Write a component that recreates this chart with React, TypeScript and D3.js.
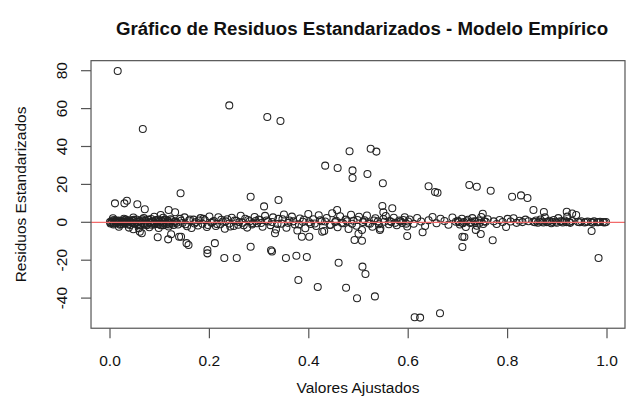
import React from "react";
import * as d3 from "d3";

// ---- Data ----
// Dense band of residuals near zero
const bandFittedA = [0.000,0.003,0.005,0.008,0.010,0.013,0.016,0.019,0.021,0.024,0.027,0.030,0.033,0.036,0.039,0.042,0.045,0.048,0.051,0.054,0.057,0.060,0.063,0.066,0.069,0.072,0.075,0.078,0.081,0.084,0.087,0.090,0.093,0.096,0.099,0.102,0.105,0.108,0.111,0.114,0.117,0.120,0.124,0.128];
const bandResidA = [0.1,-0.2,0.3,-0.5,0.4,0.8,-0.3,0.6,-0.9,0.2,1.1,-0.6,0.5,-1.2,0.9,0.0,-0.4,1.3,-0.8,0.3,-1.5,0.7,-0.2,1.0,-1.1,0.4,-0.7,1.4,0.1,-1.3,0.6,-0.5,1.2,-0.9,0.3,-1.6,0.8,-0.1,1.5,-1.0,0.5,-0.3,1.1,-1.4];
const bandFittedA2 = [0.006,0.018,0.028,0.038,0.047,0.058,0.068,0.079,0.089,0.098,0.107,0.118];
const bandResidA2 = [2.1,-2.4,1.9,-2.8,2.5,-3.2,2.2,-2.6,2.9,-3.0,2.4,-2.2];
const bandFittedA3 = [0.001,0.004,0.007,0.009,0.012,0.015,0.017,0.020,0.023,0.026,0.029,0.032,0.035,0.038,0.041,0.044,0.047,0.050,0.053,0.056,0.059,0.062,0.065,0.068,0.071,0.074,0.077,0.080,0.083,0.086,0.089,0.092,0.095,0.098,0.101,0.104,0.107,0.110,0.113,0.116,0.119,0.122,0.126,0.130];
const bandResidA3 = [-0.6,0.9,-1.1,1.2,-0.4,0.2,1.0,-1.3,0.7,-0.8,0.3,1.4,-0.2,0.5,-1.4,1.1,0.8,-0.6,1.5,-1.0,0.4,-1.7,1.6,-0.5,0.9,-1.5,1.2,-0.3,1.7,0.2,-1.2,1.0,-0.1,1.4,-0.8,0.6,-1.5,1.3,-0.4,0.9,-1.2,1.6,-0.6,0.3];
const bandFittedB = [0.132,0.137,0.141,0.146,0.150,0.155,0.159,0.164,0.168,0.173,0.177,0.182,0.186,0.191,0.195,0.200,0.204,0.209,0.213,0.218,0.222,0.227,0.231,0.236,0.240,0.245,0.249,0.254,0.258,0.263,0.267,0.272,0.276,0.281,0.286,0.291,0.296];
const bandResidB = [0.5,-1.2,1.8,-0.4,2.6,-2.1,0.9,-3.0,1.4,0.2,-1.7,2.2,-0.8,1.1,-2.5,3.1,-0.3,0.7,-1.9,2.7,-1.0,0.4,-3.4,1.6,-0.6,2.4,-2.0,0.8,-1.3,3.5,-0.2,1.9,-2.8,0.6,-1.1,2.8,-0.5];
const bandFittedB2 = [0.134,0.143,0.152,0.161,0.170,0.179,0.188,0.197,0.206,0.215,0.224,0.233,0.242,0.251,0.260,0.269,0.278,0.287,0.293,0.299];
const bandResidB2 = [-0.3,0.8,-1.0,1.5,-0.6,0.9,1.8,-1.4,0.2,-0.9,1.3,0.5,-2.2,1.0,0.1,-1.6,1.2,-0.4,0.7,1.5];
const bandFittedC = [0.302,0.307,0.312,0.318,0.323,0.328,0.334,0.339,0.345,0.350,0.355,0.361,0.366,0.372,0.377,0.382,0.388,0.393,0.399,0.404,0.409,0.415,0.420,0.426,0.431,0.436,0.442,0.447,0.453,0.458,0.463,0.469,0.474,0.480,0.485,0.490,0.496,0.501,0.507,0.512,0.517,0.523,0.528,0.534,0.539,0.544,0.550,0.555,0.561,0.566,0.571,0.577,0.582,0.588,0.593,0.598];
const bandResidC = [1.2,-2.3,3.4,0.4,-1.5,2.6,-3.8,1.8,-0.7,4.1,-2.9,0.9,3.0,-1.2,-4.3,2.0,0.3,-3.1,4.4,-0.9,1.6,-2.0,3.7,0.6,-4.6,2.3,-1.4,4.8,0.1,-2.6,3.2,-0.5,1.4,-3.5,4.0,0.8,-1.8,2.9,-4.1,1.1,3.6,-0.8,-2.4,2.1,0.5,-3.3,1.7,3.3,-1.0,0.2,2.4,-1.6,1.0,-0.4,2.7,-2.2];
const bandFittedC2 = [0.304,0.315,0.326,0.337,0.347,0.358,0.369,0.380,0.390,0.401,0.412,0.423,0.433,0.444,0.455,0.466,0.477,0.487,0.498,0.509,0.520,0.531,0.541,0.552,0.563,0.574,0.585,0.590,0.596,0.600];
const bandResidC2 = [-0.4,1.0,0.2,-0.9,1.6,-0.3,0.5,-1.1,1.3,0.0,-0.6,1.1,0.4,-1.3,0.8,-0.2,0.6,-0.8,1.2,0.1,-0.5,0.9,-1.0,0.3,0.7,-0.3,0.5,1.2,-0.7,0.4];
const bandFittedD = [0.603,0.611,0.618,0.626,0.634,0.641,0.649,0.657,0.665,0.673,0.681,0.689,0.696];
const bandResidD = [1.5,-0.8,2.3,0.4,-1.9,1.1,2.8,-0.5,1.9,0.7,-1.3,2.5,0.3];
const bandFittedE = [0.700,0.704,0.708,0.712,0.716,0.720,0.725,0.729,0.733,0.738,0.742,0.747,0.751,0.756,0.760];
const bandResidE = [0.8,-1.2,1.9,0.2,-2.5,1.3,-0.4,2.2,0.6,-1.8,1.0,2.8,-0.9,0.3,1.6];
const bandFittedE2 = [0.702,0.710,0.718,0.727,0.735,0.744,0.753];
const bandResidE2 = [0.1,-0.5,0.6,0.0,0.3,-0.2,0.5];
const bandFittedF = [0.772,0.778,0.784,0.790,0.800,0.806,0.812,0.818,0.824,0.830,0.836,0.842];
const bandResidF = [0.5,-0.9,1.2,0.2,1.8,0.4,2.1,-0.3,0.8,0.1,1.4,0.6];
const bandFittedG = [0.852,0.857,0.861,0.866,0.870,0.875,0.879,0.884,0.888,0.893,0.897,0.902,0.906,0.911,0.915,0.920,0.924,0.929];
const bandResidG = [0.3,0.9,-0.2,1.5,0.4,2.6,0.1,0.8,-0.5,1.2,0.3,2.2,0.6,-0.1,1.0,3.0,0.2,0.7];
const bandFittedG2 = [0.855,0.864,0.872,0.881,0.890,0.899,0.909,0.918,0.926];
const bandResidG2 = [0.0,0.4,-0.1,0.3,0.2,-0.2,0.4,0.1,-0.3];
const bandFittedH = [0.942,0.948,0.955,0.961,0.968,0.974,0.980,0.986,0.992,0.998];
const bandResidH = [0.2,0.6,-0.1,0.4,0.1,0.5,0.0,0.3,0.1,0.2];
const bandFittedH2 = [0.945,0.958,0.971,0.983,0.995];
const bandResidH2 = [0.0,0.2,-0.2,0.1,-0.1];

// Scattered points away from the band
const outFitted = [0.0155,0.066,0.240,0.3165,0.343,0.482,0.5245,0.536,0.433,0.458,0.488,0.488,0.518,0.549,0.641,0.654,0.659,0.723,0.738,0.766,0.809,0.827,0.840,0.852,0.873,0.750,0.919,0.930,0.938,
  0.709,0.713,0.709,0.736,0.746,0.770,0.797,0.969,0.983,0.664,
  0.310,0.339,0.457,0.548,0.550,0.568,
  0.324,0.326,0.354,0.375,0.396,0.379,0.418,0.460,0.475,0.497,0.508,0.514,0.533,0.613,0.624,0.492,0.507,0.500,0.598,0.629,0.386,0.401,0.332,0.427,0.543,
  0.010,0.029,0.034,0.055,0.070,0.142,0.102,0.118,0.131,0.283,
  0.047,0.060,0.064,0.096,0.117,0.123,0.139,0.143,0.154,0.158,0.211,0.196,0.196,0.230,0.255,0.283];
const outResid = [79.8,49.2,61.7,55.6,53.5,37.5,38.8,37.3,29.9,28.7,27.4,23.4,25.5,20.6,19.0,16.0,15.6,19.7,18.8,16.7,13.5,14.2,12.8,6.5,5.4,4.5,5.6,4.6,3.8,
  -7.6,-7.8,-13.0,-4.0,-6.2,-9.5,-2.5,-4.6,-18.8,-48.0,
  8.4,11.8,6.5,8.6,5.3,7.4,
  -14.8,-15.4,-18.8,-17.6,-18.3,-30.4,-34.1,-21.3,-34.5,-40.1,-23.4,-27.3,-39.1,-50.1,-50.3,-9.3,-9.7,-6.0,-7.2,-5.3,-7.6,-7.6,-5.8,-5.0,-4.0,
  10.0,10.0,11.4,9.5,6.9,15.3,3.9,6.5,5.3,13.5,
  -3.7,-5.0,-5.8,-7.9,-9.0,-6.3,-7.6,-7.6,-11.0,-12.0,-11.0,-14.6,-16.4,-18.8,-18.8,-12.9];

const xTicks = [0, 0.2, 0.4, 0.6, 0.8, 1.0];
const yTicks = [-40, -20, 0, 20, 40, 60, 80];
const titleText = "Gráfico de Residuos Estandarizados - Modelo Empírico";
const xLabel = "Valores Ajustados";
const yLabel = "Residuos Estandarizados";

function zip(xs: number[], ys: number[]) {
  const n = Math.min(xs.length, ys.length);
  const out: [number, number][] = [];
  for (let i = 0; i < n; i++) out.push([xs[i], ys[i]]);
  return out;
}

const points: [number, number][] = [
  ...zip(bandFittedA, bandResidA),
  ...zip(bandFittedA2, bandResidA2),
  ...zip(bandFittedA3, bandResidA3),
  ...zip(bandFittedB, bandResidB),
  ...zip(bandFittedB2, bandResidB2),
  ...zip(bandFittedC, bandResidC),
  ...zip(bandFittedC2, bandResidC2),
  ...zip(bandFittedD, bandResidD),
  ...zip(bandFittedE, bandResidE),
  ...zip(bandFittedE2, bandResidE2),
  ...zip(bandFittedF, bandResidF),
  ...zip(bandFittedG, bandResidG),
  ...zip(bandFittedG2, bandResidG2),
  ...zip(bandFittedH, bandResidH),
  ...zip(bandFittedH2, bandResidH2),
  ...zip(outFitted, outResid),
];

export default function App() {
  const W = 630, H = 411;
  const x = d3.scaleLinear().domain([0, 1]).range([110, 607]);
  const y = d3.scaleLinear().domain([0, 80]).range([222.3, 70.7]);
  const x0 = x(-0.0382), x1 = x(1.0362);
  const y0 = y(85.3), y1 = y(-55.9);
  const font = "'Liberation Sans', Arial, sans-serif";
  const tickLen = 10;
  return (
    <svg width={W} height={H} style={{ position: "absolute", left: 0, top: 0, background: "#fff" }} fontFamily={font}>
      <rect x={0} y={0} width={W} height={H} fill="#fff" />
      <text x={362} y={35} textAnchor="middle" fontSize={18.7} fontWeight="bold" fill="#111">{titleText}</text>
      <g>
        {points.map((p, i) => (
          <circle key={i} cx={x(p[0])} cy={y(p[1])} r={3.5} fill="none" stroke="#222" strokeWidth={1.05} />
        ))}
      </g>
      <line x1={x0} x2={x1} y1={y(0)} y2={y(0)} stroke="#f26a6a" strokeWidth={1.3} />
      <rect x={x0} y={y0} width={x1 - x0} height={y1 - y0} fill="none" stroke="#555" strokeWidth={1.2} />
      {xTicks.map((t) => (
        <g key={"x" + t}>
          <line x1={x(t)} x2={x(t)} y1={y1} y2={y1 + tickLen} stroke="#555" strokeWidth={1.2} />
          <text x={x(t)} y={366} textAnchor="middle" fontSize={15.5} fill="#111">{t.toFixed(1)}</text>
        </g>
      ))}
      {yTicks.map((t) => (
        <g key={"y" + t}>
          <line x1={x0 - tickLen} x2={x0} y1={y(t)} y2={y(t)} stroke="#555" strokeWidth={1.2} />
          <text transform={`translate(66.5,${y(t)}) rotate(-90)`} textAnchor="middle" fontSize={15.5} fill="#111">{t}</text>
        </g>
      ))}
      <text x={(x0 + x1) / 2} y={393} textAnchor="middle" fontSize={15.5} fill="#111">{xLabel}</text>
      <text transform={`translate(26,${(y0 + y1) / 2}) rotate(-90)`} textAnchor="middle" fontSize={15.5} fill="#111">{yLabel}</text>
    </svg>
  );
}
